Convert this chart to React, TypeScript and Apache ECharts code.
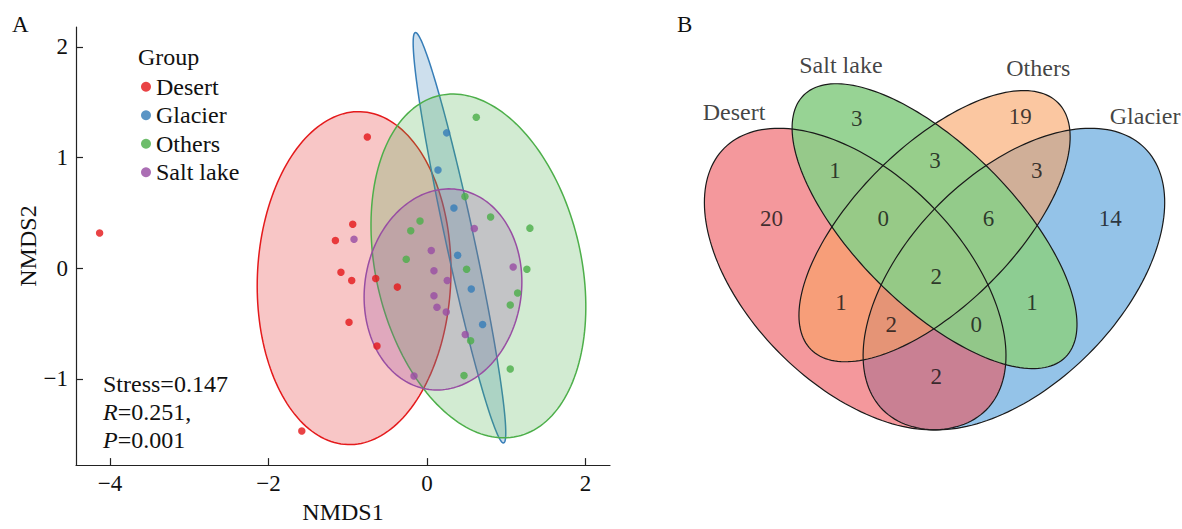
import React, { useEffect, useRef } from 'react';
import * as echarts from 'echarts';

// ---------- Panel A: NMDS ----------
const groups = ['Desert', 'Glacier', 'Others', 'Salt lake'];
const groupColors = ['#E41A1C', '#377EB8', '#4DAF4A', '#984EA3'];

const desertPts = [
  [-0.753, 1.185], [-0.937, 0.397], [-1.156, 0.25], [-1.086, -0.037], [-0.95, -0.112],
  [-0.647, -0.094], [-0.374, -0.171], [-0.984, -0.489], [-0.631, -0.703], [-1.58, -1.471],
  [-4.132, 0.318],
];
const glacierPts = [
  [0.248, 1.223], [0.139, 0.888], [0.34, 0.544], [0.387, 0.117], [0.559, -0.189], [0.702, -0.509],
];
const othersPts = [
  [0.622, 1.365], [0.479, 0.647], [0.803, 0.462], [-0.088, 0.426], [-0.205, 0.338],
  [1.299, 0.362], [-0.262, 0.08], [0.5, -0.009], [1.261, -0.009], [1.144, -0.224],
  [1.051, -0.333], [0.551, -0.656], [0.467, -0.971], [1.051, -0.912],
];
const saltPts = [
  [-0.921, 0.261], [0.597, 0.358], [0.054, 0.159], [0.088, -0.024], [1.088, 0.011],
  [0.256, -0.112], [0.088, -0.25], [0.126, -0.353], [0.243, -0.397], [0.483, -0.6],
  [-0.164, -0.974],
];
const groupPoints = [desertPts, glacierPts, othersPts, saltPts];

// confidence ellipses: [cx, cy, semiMajor, semiMinor, angleDeg]
const desertEllipse = [-0.92, -0.09, 1.508, 1.219, 83.7];
const glacierEllipse = [0.41, 0.275, 1.937, 0.175, 106.8];
const othersEllipse = [0.649, 0.02, 1.644, 1.245, 120];
const saltEllipse = [0.202, -0.192, 1.008, 0.895, 19.9];
const groupEllipses = [desertEllipse, glacierEllipse, othersEllipse, saltEllipse];

const xTicks = [-4, -2, 0, 2];
const yTicks = [-1, 0, 1, 2];
const statLines = ['Stress=0.147', 'R=0.251,', 'P=0.001'];

// ---------- Panel B: Venn ----------
const vennSets = ['Desert', 'Salt lake', 'Others', 'Glacier'];
// standard 4-set ellipse layout: [cx, cy, a, b, angleDeg]
const vennEllipses = [
  [0.35, 0.47, 0.35, 0.2, 135],
  [0.5, 0.57, 0.35, 0.15, 135],
  [0.5, 0.57, 0.33, 0.15, 45],
  [0.65, 0.47, 0.35, 0.2, 45],
];
const vennFills = ['rgb(237,83,90)', 'rgb(140,206,136)', 'rgb(248,162,98)', 'rgb(77,155,217)'];
const vennOpacity = [0.6, 0.9, 0.6, 0.6];
const vennDrawOrder = [3, 0, 2, 1];

const vennRegions = [
  'S', 'O', 'DS', 'SO', 'OG', 'D', 'DSO', 'SOG', 'G', 'DSOG', 'DO', 'SG', 'DOG', 'DSG', 'DG',
];
const vennCounts = [3, 19, 1, 3, 3, 20, 0, 6, 14, 2, 1, 1, 2, 0, 2];

// layout anchors (venn space) for region labels and set names
const regionAnchors: Record<string, number[]> = {
  S: [0.353, 0.774], O: [0.662, 0.777], DS: [0.312, 0.676], SO: [0.501, 0.695],
  OG: [0.693, 0.676], D: [0.192, 0.585], DSO: [0.403, 0.585], SOG: [0.602, 0.585],
  G: [0.832, 0.585], DSOG: [0.503, 0.474], DO: [0.323, 0.425], SG: [0.684, 0.425],
  DOG: [0.418, 0.385], DSG: [0.579, 0.385], DG: [0.503, 0.285],
};
const setNameAnchors = [[0.121, 0.786], [0.323, 0.875], [0.696, 0.869], [0.898, 0.778]];

const FONT = '"Liberation Serif", "Times New Roman", serif';
const INK = '#111';

function ellipsePts(cx: number, cy: number, a: number, b: number, deg: number, n = 180) {
  const r = (deg * Math.PI) / 180;
  const pts: number[][] = [];
  for (let i = 0; i < n; i++) {
    const t = (2 * Math.PI * i) / n;
    pts.push([
      cx + a * Math.cos(t) * Math.cos(r) - b * Math.sin(t) * Math.sin(r),
      cy + a * Math.cos(t) * Math.sin(r) + b * Math.sin(t) * Math.cos(r),
    ]);
  }
  return pts;
}

const fmtMinus = (v: number) => (v < 0 ? '\u2212' + Math.abs(v) : String(v));

function hexToRgba(hex: string, a: number) {
  const n = parseInt(hex.slice(1), 16);
  return `rgba(${(n >> 16) & 255},${(n >> 8) & 255},${n & 255},${a})`;
}

export default function App() {
  const ref = useRef<HTMLDivElement>(null);
  useEffect(() => {
    const chart = echarts.init(ref.current!, null, { renderer: 'svg' });

    const ellipseSeries = groups.map((g, i) => ({
      name: g + ' ellipse',
      type: 'custom',
      xAxisIndex: 0,
      yAxisIndex: 0,
      z: 1,
      silent: true,
      data: [groupEllipses[i]],
      renderItem: (params: any, api: any) => {
        const pts = ellipsePts(api.value(0), api.value(1), api.value(2), api.value(3), api.value(4)).map(
          (p) => api.coord(p)
        );
        return {
          type: 'polygon',
          shape: { points: pts },
          style: { fill: hexToRgba(groupColors[i], 0.25), stroke: groupColors[i], lineWidth: 1.5 },
        };
      },
    }));

    const scatterSeries = groups.map((g, i) => ({
      name: g,
      type: 'scatter',
      xAxisIndex: 0,
      yAxisIndex: 0,
      z: 3,
      symbol: 'circle',
      symbolSize: 7.5,
      itemStyle: { color: groupColors[i], opacity: 0.82 },
      data: groupPoints[i],
    }));

    const vennFillSeries = {
      name: 'venn fill',
      type: 'custom',
      xAxisIndex: 1,
      yAxisIndex: 1,
      z: 1,
      silent: true,
      data: vennDrawOrder.map((k) => [...vennEllipses[k], k]),
      renderItem: (params: any, api: any) => {
        const k = api.value(5);
        const pts = ellipsePts(api.value(0), api.value(1), api.value(2), api.value(3), api.value(4)).map(
          (p) => api.coord(p)
        );
        return {
          type: 'polygon',
          shape: { points: pts },
          style: { fill: vennFills[k], opacity: vennOpacity[k], stroke: 'none' },
        };
      },
    };

    const vennLineSeries = {
      name: 'venn line',
      type: 'custom',
      xAxisIndex: 1,
      yAxisIndex: 1,
      z: 2,
      silent: true,
      data: vennEllipses,
      renderItem: (params: any, api: any) => {
        const pts = ellipsePts(api.value(0), api.value(1), api.value(2), api.value(3), api.value(4)).map(
          (p) => api.coord(p)
        );
        return {
          type: 'polygon',
          shape: { points: pts },
          style: { fill: 'none', stroke: '#1a1a1a', lineWidth: 1.2 },
        };
      },
    };

    const vennCountSeries = {
      name: 'venn counts',
      type: 'scatter',
      xAxisIndex: 1,
      yAxisIndex: 1,
      z: 4,
      silent: true,
      symbolSize: 1,
      itemStyle: { color: 'rgba(0,0,0,0)' },
      label: {
        show: true,
        position: 'inside',
        formatter: (p: any) => String(p.value[2]),
        fontFamily: FONT,
        fontSize: 23,
        color: INK,
      },
      data: vennRegions.map((r, i) => [regionAnchors[r][0], regionAnchors[r][1], vennCounts[i]]),
    };

    const vennNameSeries = {
      name: 'venn names',
      type: 'scatter',
      xAxisIndex: 1,
      yAxisIndex: 1,
      z: 4,
      silent: true,
      symbolSize: 1,
      itemStyle: { color: 'rgba(0,0,0,0)' },
      label: {
        show: true,
        position: 'inside',
        formatter: (p: any) => p.name,
        fontFamily: FONT,
        fontSize: 24,
        color: INK,
      },
      data: vennSets.map((s, i) => ({ name: s, value: setNameAnchors[i] })),
    };

    const axisLineStyle = { color: '#222', width: 1.2 };

    const option: any = {
      animation: false,
      backgroundColor: '#fff',
      textStyle: { fontFamily: FONT },
      grid: [
        { left: 76, top: 27, width: 534, height: 448, containLabel: false },
        { left: 685.9, top: 25.15, width: 492, height: 423.2, containLabel: false },
      ],
      xAxis: [
        {
          gridIndex: 0,
          type: 'value',
          min: -4.43,
          max: 2.31,
          axisLine: { show: true, onZero: false, lineStyle: axisLineStyle },
          axisTick: { show: true, inside: true, length: 7, customValues: xTicks, lineStyle: axisLineStyle },
          axisLabel: {
            customValues: xTicks,
            formatter: fmtMinus,
            fontFamily: FONT,
            fontSize: 23,
            color: INK,
            margin: 7,
          },
          splitLine: { show: false },
          name: 'NMDS1',
          nameLocation: 'middle',
          nameGap: 32,
          nameTextStyle: { fontFamily: FONT, fontSize: 24, color: INK },
        },
        { gridIndex: 1, type: 'value', min: 0.03, max: 0.96, show: false },
      ],
      yAxis: [
        {
          gridIndex: 0,
          type: 'value',
          min: -1.78,
          max: 2.18,
          axisLine: { show: true, onZero: false, lineStyle: axisLineStyle },
          axisTick: { show: true, inside: true, length: 7, customValues: yTicks, lineStyle: axisLineStyle },
          axisLabel: {
            customValues: yTicks,
            formatter: fmtMinus,
            fontFamily: FONT,
            fontSize: 23,
            color: INK,
            margin: 8,
          },
          splitLine: { show: false },
          name: 'NMDS2',
          nameLocation: 'middle',
          nameGap: 35,
          nameTextStyle: { fontFamily: FONT, fontSize: 24, color: INK },
        },
        { gridIndex: 1, type: 'value', min: 0.15, max: 0.95, show: false },
      ],
      legend: {
        data: groups.map((name) => ({ name, icon: 'circle' })),
        orient: 'vertical',
        left: 141,
        top: 72.5,
        padding: 0,
        itemWidth: 10,
        itemHeight: 10,
        itemGap: 0,
        selectedMode: false,
        textStyle: { fontFamily: FONT, fontSize: 24, color: INK, lineHeight: 28.5 },
      },
      graphic: [
        {
          type: 'text',
          left: 12,
          top: 13,
          style: { text: 'A', font: `23px ${FONT}`, fill: INK },
        },
        {
          type: 'text',
          left: 677,
          top: 13,
          style: { text: 'B', font: `23px ${FONT}`, fill: INK },
        },
        {
          type: 'text',
          left: 138,
          top: 45,
          style: { text: 'Group', font: `24px ${FONT}`, fill: INK },
        },
        {
          type: 'text',
          left: 103,
          top: 372,
          style: {
            text: [
              '{n|' + statLines[0] + '}',
              '{i|' + statLines[1].slice(0, 1) + '}{n|' + statLines[1].slice(1) + '}',
              '{i|' + statLines[2].slice(0, 1) + '}{n|' + statLines[2].slice(1) + '}',
            ].join('\n'),
            fill: INK,
            rich: {
              n: { fontFamily: FONT, fontSize: 24, lineHeight: 28, fill: INK },
              i: { fontFamily: FONT, fontSize: 24, lineHeight: 28, fontStyle: 'italic', fill: INK },
            },
          },
        },
      ],
      series: [
        ...ellipseSeries,
        ...scatterSeries,
        vennFillSeries,
        vennLineSeries,
        vennCountSeries,
        vennNameSeries,
      ],
    };

    chart.setOption(option);
    return () => chart.dispose();
  }, []);

  return (
    <div
      ref={ref}
      style={{ position: 'fixed', left: 0, top: 0, width: 1182, height: 529, background: '#fff' }}
    />
  );
}
